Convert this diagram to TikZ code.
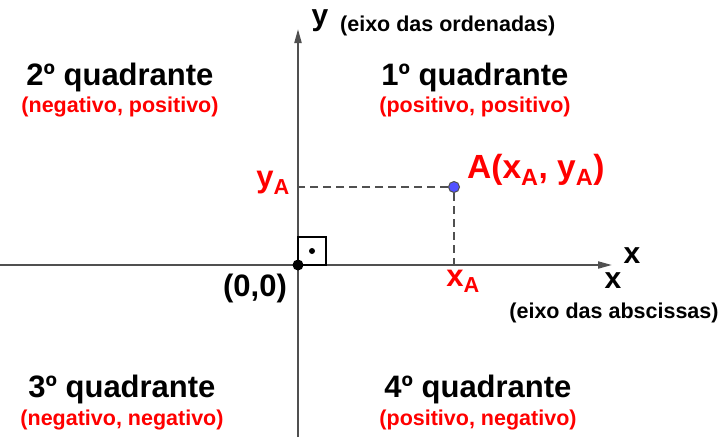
\documentclass[tikz,border=0pt]{standalone}
\usepackage{fontspec}
\setmainfont{Liberation Sans}
\usetikzlibrary{arrows.meta}
\definecolor{axisgray}{RGB}{80,80,80}
\definecolor{pointblue}{RGB}{80,80,255}

\begin{document}
\begin{tikzpicture}[x=1pt,y=-1pt]
\tikzset{
  quadlabel/.style={font=\fontsize{31}{36}\selectfont\bfseries,inner sep=0pt},
  signlabel/.style={font=\fontsize{21.5}{26}\selectfont\bfseries,text=red,inner sep=0pt},
  coordlabel/.style={font=\fontsize{31}{36}\selectfont\bfseries,text=red,inner sep=0pt},
  axislabel/.style={font=\fontsize{30}{36}\selectfont\bfseries,inner sep=0pt},
  axis/.style={-{Triangle[length=14pt,width=7pt]},line width=2pt,draw=axisgray},
  guide/.style={dash pattern=on 8pt off 5pt,line width=1.6pt,draw=axisgray}
}
\useasboundingbox (0,0) rectangle (723,437);
% axes
\coordinate (n_xstart) at (0,265);
\coordinate (n_xend) at (612,265);
\coordinate (n_ystart) at (298,437);
\coordinate (n_yend) at (298,29);
\draw[axis] (n_xstart) -- (n_xend);
\draw[axis] (n_ystart) -- (n_yend);
% right angle
\draw[line width=1.6pt] (298,265) rectangle (326,237);
\fill (312,251) circle (3pt);
% point A and its projections
\coordinate (n_px) at (454,265);
\coordinate (n_py) at (298,187);
\node[circle,fill=pointblue,draw=axisgray,line width=1pt,inner sep=0pt,minimum size=11pt] (n_A) at (454,187) {};
\draw[guide] (n_A) -- (n_py);
\draw[guide] (n_A) -- (n_px);
\node[circle,fill=black,inner sep=0pt,minimum size=11pt] (n_O) at (298,265) {};
% labels
\node[axislabel] (n_y) at (320,21) {y};
\node[signlabel,text=black,anchor=west] (n_yname) at (340,26) {(eixo das ordenadas)};
\node[axislabel] (n_x1) at (632,256) {x};
\node[axislabel] (n_x2) at (613,281) {x};
\node[signlabel,text=black] (n_xname) at (614,313) {(eixo das abscissas)};
\node[coordlabel] (n_ya) at (273,183) {y\textsubscript{A}};
\node[coordlabel] (n_xa) at (463,281) {x\textsubscript{A}};
\node[coordlabel,font=\fontsize{33.5}{38}\selectfont\bfseries,anchor=west] (n_Aname) at (467,170) {A(x\textsubscript{A}, y\textsubscript{A})};
\node[quadlabel] (n_origin) at (255,288) {(0,0)};
\node[quadlabel] (n_q1) at (475,77) {1º quadrante};
\node[signlabel] (n_s1) at (475,107) {(positivo, positivo)};
\node[quadlabel] (n_q2) at (120,77) {2º quadrante};
\node[signlabel] (n_s2) at (120,107) {(negativo, positivo)};
\node[quadlabel] (n_q3) at (122,389) {3º quadrante};
\node[signlabel] (n_s3) at (122,420) {(negativo, negativo)};
\node[quadlabel] (n_q4) at (478,389) {4º quadrante};
\node[signlabel] (n_s4) at (478,420) {(positivo, negativo)};
\end{tikzpicture}
\end{document}
